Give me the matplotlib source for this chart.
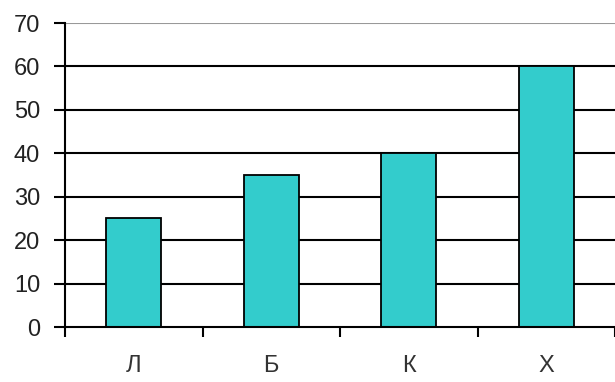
import matplotlib
matplotlib.use("Agg")
import matplotlib.pyplot as plt
import numpy as np

categories = ["Л", "Б", "К", "Х"]
values = [25, 35, 40, 60]
y_ticks = [0, 10, 20, 30, 40, 50, 60, 70]

plt.rcParams['font.family'] = ['Liberation Sans', 'DejaVu Sans']

fig = plt.figure(figsize=(6.15, 3.82), dpi=100)
ax = fig.add_axes([65 / 615, 1 - 327 / 382, 550 / 615, 304 / 382])

x = np.arange(len(categories))
ax.set_xlim(-0.5, len(categories) - 0.5)
ax.set_ylim(0, 70)

# horizontal gridlines, top one lighter
for t in y_ticks[1:]:
    col = "#999999" if t == 70 else "black"
    ax.axhline(t, color=col, lw=1.5, zorder=1)

ax.bar(x, values, width=0.4, color="#33CCCC", edgecolor="black", linewidth=1.3, zorder=2)

ax.set_yticks(y_ticks)
ax.set_yticklabels([str(t) for t in y_ticks], fontsize=17, color="#222222")
ax.set_xticks(x)
ax.set_xticklabels(categories, fontsize=17, color="#333333")
ax.set_xticks(np.arange(-0.5, len(categories)), minor=True)

ax.tick_params(axis="y", length=8, width=1.5, pad=10, direction="out")
ax.tick_params(axis="x", which="major", length=0, pad=20)
ax.tick_params(axis="x", which="minor", length=7, width=1.5, direction="out")

for s in ["top", "right"]:
    ax.spines[s].set_visible(False)
ax.spines["left"].set_linewidth(1.5)
ax.spines["bottom"].set_linewidth(1.5)

plt.savefig("out.png", dpi=100)
